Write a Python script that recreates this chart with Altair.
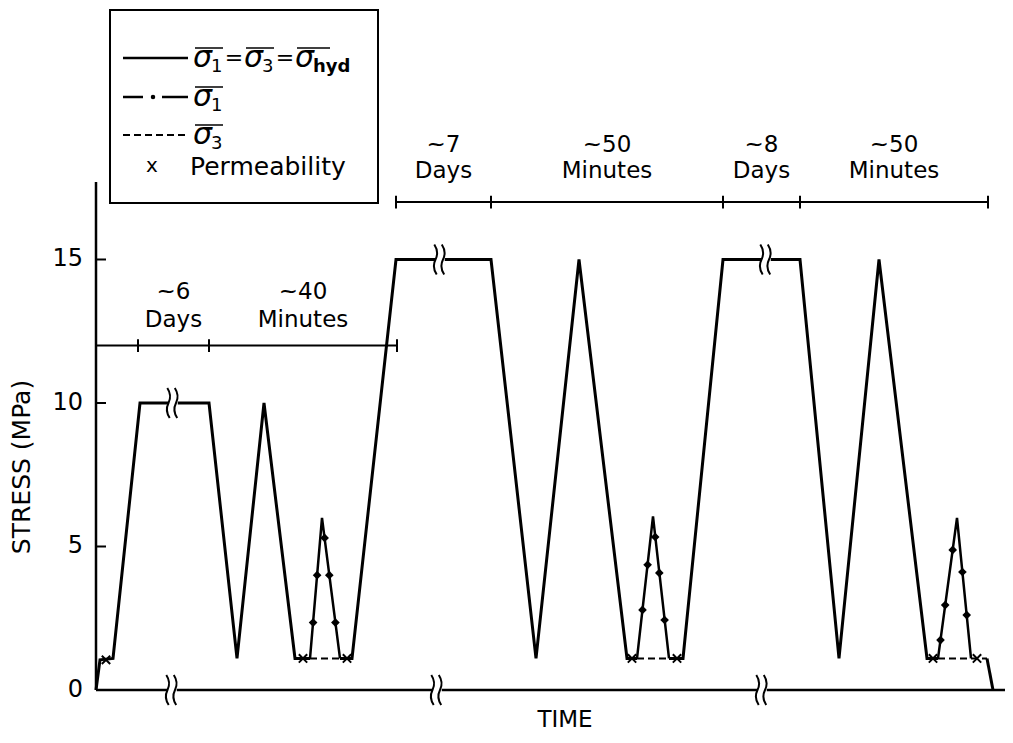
import altair as alt
import pandas as pd

# ---------------- data (time in arbitrary units, stress in MPa) ----------------
# solid path: sigma1 = sigma3 = sigma_hyd
seg_a_t = [0.0, 0.4, 1.7, 4.4, 11.3, 14.1, 16.8, 19.9, 21.4]
seg_a_v = [0.0, 1.05, 1.1, 10.0, 10.0, 1.1, 10.0, 1.1, 1.1]
seg_b_t = [24.4, 25.6, 30.0, 39.5, 44.0, 48.3, 53.1, 54.1]
seg_b_v = [1.1, 1.1, 15.0, 15.0, 1.1, 15.0, 1.1, 1.1]
seg_c_t = [57.3, 58.7, 62.7, 70.4, 74.3, 78.3, 83.1, 84.2]
seg_c_v = [1.1, 1.1, 15.0, 15.0, 1.1, 15.0, 1.1, 1.1]
seg_d_t = [89.1, 89.7]
seg_d_v = [1.1, 0.0]

# sigma1 excursions (dash-dot) : start, peak, end
sig1_t = [[21.4, 22.6, 24.4], [54.1, 55.7, 57.3], [84.2, 86.1, 87.5]]
sig1_v = [[1.1, 6.0, 1.1], [1.1, 6.05, 1.1], [1.1, 6.0, 1.1]]
# sigma1 dots
dot_t = [21.71, 22.11, 22.86, 23.33, 23.94,
         54.65, 55.16, 55.92, 56.33, 56.86,
         84.45, 84.92, 85.67, 86.64, 87.07]
dot_v = [2.35, 4.0, 5.3, 4.0, 2.35,
         2.79, 4.36, 5.33, 4.08, 2.44,
         1.74, 2.96, 4.88, 4.11, 2.61]

# sigma3 (dashed) holds
sig3_t = [[21.4, 24.4], [54.1, 57.3], [84.2, 89.1]]
sig3_v = 1.1

# permeability measurements
perm_t = [1.0, 20.7, 25.1, 53.6, 58.1, 83.7, 88.1]
perm_v = [1.05, 1.1, 1.1, 1.1, 1.1, 1.1, 1.1]

# axis breaks
plateau_break_t = [7.7, 34.4, 67.0]
plateau_break_v = [10.0, 15.0, 15.0]
base_break_t = [7.6, 34.1, 66.6]

# duration brackets
low_bracket_v = 12.0
low_bracket_ticks = [0.0, 4.2, 11.3, 30.1]
low_labels_top = ["~6", "~40"]
low_labels_bot = ["Days", "Minutes"]
high_bracket_v = 17.0
high_bracket_ticks = [30.0, 39.5, 62.7, 70.4, 89.2]
high_labels_top = ["~7", "~50", "~8", "~50"]
high_labels_bot = ["Days", "Minutes", "Days", "Minutes"]

y_ticks = [0, 5, 10, 15]
y_axis_top = 17.7

# ---------------- layout ----------------
W, H = 909, 508
T_MAX = 90.9
FONT = "DejaVu Sans"

xs = alt.Scale(domain=[0, T_MAX], nice=False, zero=False)
ys = alt.Scale(domain=[0, y_axis_top], nice=False, zero=False)


def X(f="t"):
    return alt.X(f"{f}:Q", scale=xs, axis=None)


def Y(f="v"):
    return alt.Y(f"{f}:Q", scale=ys, axis=None)


def PX(f="px"):
    return alt.X(f"{f}:Q", scale=None, axis=None)


def PY(f="py"):
    return alt.Y(f"{f}:Q", scale=None, axis=None)


one = pd.DataFrame({"a": [0]})

# solid path
rows = []
for sid, (tt, vv) in enumerate([(seg_a_t, seg_a_v), (seg_b_t, seg_b_v),
                                 (seg_c_t, seg_c_v), (seg_d_t, seg_d_v)]):
    for i, (t, v) in enumerate(zip(tt, vv)):
        rows.append({"t": t, "v": v, "seg": sid, "o": i})
solid_df = pd.DataFrame(rows)

rows = []
for sid, (tt, vv) in enumerate(zip(sig1_t, sig1_v)):
    for i, (t, v) in enumerate(zip(tt, vv)):
        rows.append({"t": t, "v": v, "seg": sid, "o": i})
sig1_df = pd.DataFrame(rows)

sig3_df = pd.DataFrame([{"t": a, "t2": b, "v": sig3_v} for a, b in sig3_t])
dots_df = pd.DataFrame({"t": dot_t, "v": dot_v})
perm_df = pd.DataFrame({"t": perm_t, "v": perm_v})

# y axis: domain line, inward ticks, labels
ydom = alt.Chart(pd.DataFrame({"v": [0.0], "v2": [y_axis_top]})).mark_rule(
    color="black", strokeWidth=2.5).encode(x=alt.value(0), y=Y(), y2="v2:Q")
ytick_df = pd.DataFrame({"v": y_ticks, "lab": [str(v) for v in y_ticks]})
yticks = alt.Chart(ytick_df[ytick_df["v"] > 0]).mark_rule(color="black", strokeWidth=2).encode(
    x=alt.value(0), x2=alt.value(10), y=Y())
ylabels = alt.Chart(ytick_df).mark_text(font=FONT, fontSize=24, color="black", align="right",
                                        baseline="middle").encode(
    x=alt.value(-13), y=Y(), text="lab:N")

solid = alt.Chart(solid_df).mark_line(color="black", strokeWidth=3, strokeJoin="miter").encode(
    x=X(), y=Y(), detail="seg:N", order="o:Q")
sig1 = alt.Chart(sig1_df).mark_line(color="black", strokeWidth=2.5).encode(
    x=X(), y=Y(), detail="seg:N", order="o:Q")
dots = alt.Chart(dots_df).mark_point(shape="diamond", filled=True, color="black", size=75, opacity=1).encode(
    x=X(), y=Y())
sig3 = alt.Chart(sig3_df).mark_rule(color="black", strokeWidth=2, strokeDash=[7, 4]).encode(
    x=X(), x2="t2:Q", y=Y())
XPATH = "M -1 -1 L 1 1 M -1 1 L 1 -1"
perm = alt.Chart(perm_df).mark_point(shape=XPATH, filled=False, color="black", size=70,
                                     strokeWidth=2, opacity=1).encode(x=X(), y=Y())

# baseline (zero line)
base = alt.Chart(one).mark_rule(color="black", strokeWidth=2.5).encode(
    x=alt.value(0), x2=alt.value(W), y=alt.value(H))

# break marks
BREAK = ("M -0.38 -1 Q -0.05 -0.5 -0.3 0 Q -0.55 0.5 -0.22 1 "
         "M 0.12 -1 Q 0.45 -0.5 0.2 0 Q -0.05 0.5 0.28 1")
brk_df = pd.DataFrame({"t": plateau_break_t + base_break_t,
                       "v": plateau_break_v + [0.0] * len(base_break_t)})
brk_gap = alt.Chart(brk_df).mark_point(shape="square", filled=True, color="white", size=90, opacity=1).encode(
    x=X(), y=Y())
brk = alt.Chart(brk_df).mark_point(shape=BREAK, filled=False, color="black", size=900,
                                   strokeWidth=2, opacity=1).encode(x=X(), y=Y())

# brackets
br_line_df = pd.DataFrame({"t": [low_bracket_ticks[0], high_bracket_ticks[0]],
                           "t2": [low_bracket_ticks[-1], high_bracket_ticks[-1]],
                           "v": [low_bracket_v, high_bracket_v]})
br_lines = alt.Chart(br_line_df).mark_rule(color="black", strokeWidth=2).encode(
    x=X(), x2="t2:Q", y=Y())
br_tick_df = pd.DataFrame({"t": low_bracket_ticks[1:] + high_bracket_ticks,
                           "v": [low_bracket_v] * 3 + [high_bracket_v] * 5})
br_tick_df["v1"] = br_tick_df["v"] - 0.22
br_tick_df["v2"] = br_tick_df["v"] + 0.22
br_ticks = alt.Chart(br_tick_df).mark_rule(color="black", strokeWidth=2).encode(
    x=X(), y=Y("v1"), y2="v2:Q")

lab_rows = []
for i in range(2):
    mid = (low_bracket_ticks[i + 1] + low_bracket_ticks[i + 2]) / 2
    lab_rows.append({"t": mid, "v": low_bracket_v + 1.62, "txt": low_labels_top[i]})
    lab_rows.append({"t": mid, "v": low_bracket_v + 0.65, "txt": low_labels_bot[i]})
for i in range(4):
    mid = (high_bracket_ticks[i] + high_bracket_ticks[i + 1]) / 2
    lab_rows.append({"t": mid, "v": high_bracket_v + 1.74, "txt": high_labels_top[i]})
    lab_rows.append({"t": mid, "v": high_bracket_v + 0.84, "txt": high_labels_bot[i]})
labels = alt.Chart(pd.DataFrame(lab_rows)).mark_text(
    font=FONT, fontSize=23, color="black", align="center", baseline="alphabetic").encode(
    x=X(), y=Y(), text="txt:N")

# axis titles
ytitle = alt.Chart(one).mark_text(font=FONT, fontSize=25, color="black", angle=270,
                                  align="center", baseline="middle").encode(
    x=alt.value(-74), y=alt.value(285), text=alt.value("STRESS (MPa)"))
xtitle = alt.Chart(one).mark_text(font=FONT, fontSize=23, color="black",
                                  align="center", baseline="alphabetic").encode(
    x=alt.value(469), y=alt.value(545), text=alt.value("TIME"))

# legend (pixel positions relative to plot origin)
legend_box = alt.Chart(one).mark_rect(fill="white", fillOpacity=0, stroke="black", strokeWidth=2).encode(
    x=alt.value(14), x2=alt.value(282), y=alt.value(-172), y2=alt.value(21))
lg_solid = alt.Chart(one).mark_rule(color="black", strokeWidth=2.5).encode(
    x=alt.value(27), x2=alt.value(92), y=alt.value(-124))
lg_dd = alt.Chart(pd.DataFrame({"px": [27, 66], "px2": [47, 92], "py": [-85, -85]})).mark_rule(
    color="black", strokeWidth=2.5).encode(x=PX(), x2="px2:Q", y=PY())
lg_dot = alt.Chart(one).mark_point(shape="circle", filled=True, color="black", size=20, opacity=1).encode(
    x=alt.value(57), y=alt.value(-85))
lg_dash = alt.Chart(one).mark_rule(color="black", strokeWidth=2, strokeDash=[7, 4]).encode(
    x=alt.value(27), x2=alt.value(92), y=alt.value(-47))
lg_x = alt.Chart(one).mark_text(font=FONT, fontSize=20, color="black", baseline="middle", align="center").encode(
    x=alt.value(56), y=alt.value(-16), text=alt.value("x"))
lg_perm = alt.Chart(one).mark_text(font=FONT, fontSize=25, color="black", baseline="middle", align="left").encode(
    x=alt.value(94), y=alt.value(-15), text=alt.value("Permeability"))

sig_df = pd.DataFrame({"px": [97, 148, 199, 97, 97], "py": [-124, -124, -124, -85, -47]})
lg_sig = alt.Chart(sig_df).mark_text(font=FONT, fontSize=30, fontStyle="italic", color="black",
                                     baseline="middle", align="left").encode(
    x=PX(), y=PY(), text=alt.value("σ"))
sub_df = pd.DataFrame({"px": [115, 166, 115, 115], "py": [-115, -115, -76, -38],
                       "txt": ["1", "3", "1", "3"]})
lg_sub = alt.Chart(sub_df).mark_text(font=FONT, fontSize=18, color="black",
                                     baseline="middle", align="left").encode(
    x=PX(), y=PY(), text="txt:N")
hyd = alt.Chart(one).mark_text(font=FONT, fontSize=18, fontWeight="bold", color="black",
                               baseline="middle", align="left").encode(
    x=alt.value(217), y=alt.value(-115), text=alt.value("hyd"))
eq_df = pd.DataFrame({"px": [138, 189], "py": [-124, -124]})
lg_eq = alt.Chart(eq_df).mark_text(font=FONT, fontSize=22, color="black",
                                   baseline="middle", align="center").encode(
    x=PX(), y=PY(), text=alt.value("="))
bar_df = pd.DataFrame({"px": [99, 150, 201, 99, 99], "px2": [127, 178, 234, 127, 127],
                       "py": [-134, -134, -134, -95, -57]})
lg_bar = alt.Chart(bar_df).mark_rule(color="black", strokeWidth=1.5).encode(
    x=PX(), x2="px2:Q", y=PY())

chart = alt.layer(
    ydom, base, yticks, ylabels, br_lines, br_ticks, labels,
    sig3, solid, sig1, dots, perm,
    brk_gap, brk,
    ytitle, xtitle,
    legend_box, lg_solid, lg_dd, lg_dot, lg_dash, lg_x, lg_perm,
    lg_sig, lg_sub, hyd, lg_eq, lg_bar,
).properties(
    width=W, height=H,
    background="white",
    autosize=alt.AutoSizeParams(type="none"),
    padding={"left": 88, "top": 174, "right": 0, "bottom": 45},
).configure_view(strokeWidth=0, stroke="transparent")

chart.save("out.html", embed_options={"renderer": "svg", "actions": False})
